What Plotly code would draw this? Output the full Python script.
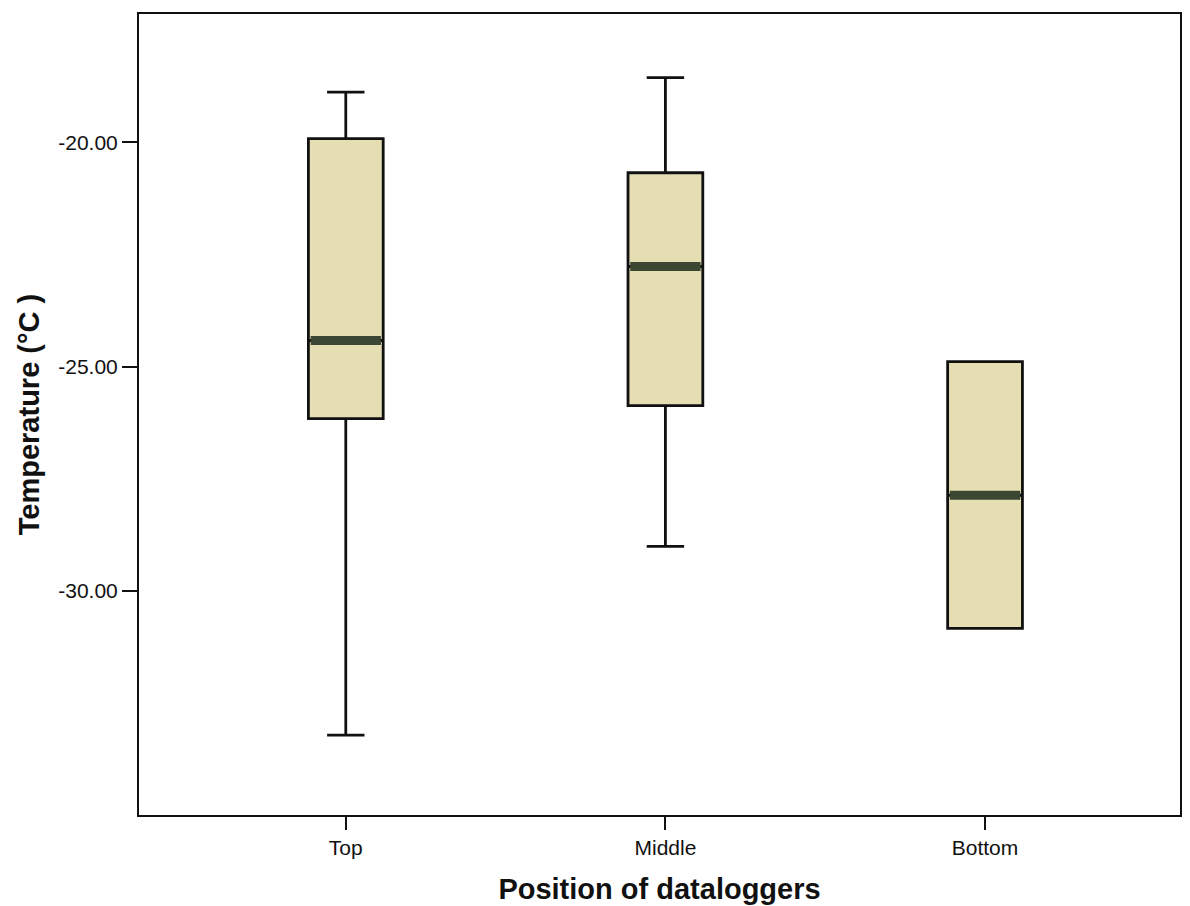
import plotly.graph_objects as go

categories = ["Top", "Middle", "Bottom"]
upper = [-18.88, -18.56, -24.89]
q3 = [-19.92, -20.68, -24.89]
median = [-24.42, -22.77, -27.87]
q1 = [-26.16, -25.87, -30.84]
lower = [-33.22, -29.01, -30.84]
y_ticks = [-20, -25, -30]
y_tick_labels = ["-20.00", "-25.00", "-30.00"]

BOX_W = 0.234
FILL = "#E4DEB2"
MED = "#3B4733"
FONT = "Liberation Sans, Arial, sans-serif"

xs = list(range(len(categories)))
fig = go.Figure()
fig.add_trace(go.Box(
    x=xs, q1=q1, median=median, q3=q3, lowerfence=lower, upperfence=upper,
    width=BOX_W, whiskerwidth=0.5, fillcolor=FILL,
    line=dict(color="#111111", width=2.8), boxpoints=False, showlegend=False,
))
for i, m in zip(xs, median):
    fig.add_trace(go.Scatter(
        x=[i - BOX_W / 2 + 0.007, i + BOX_W / 2 - 0.007], y=[m, m], mode="lines",
        line=dict(color=MED, width=9), showlegend=False, hoverinfo="skip",
    ))

fig.update_layout(
    width=1190, height=906,
    margin=dict(l=131, r=18, t=6, b=99, autoexpand=False),
    paper_bgcolor="white", plot_bgcolor="white",
    font=dict(family=FONT, color="#111111"),
)
fig.update_xaxes(
    range=[-0.647, 2.61], tickvals=xs, ticktext=categories,
    showline=True, linecolor="#111111", linewidth=2, mirror=True,
    ticks="outside", ticklen=13, tickwidth=2, tickcolor="#111111",
    showgrid=False, zeroline=False, tickfont=dict(size=21, family=FONT),
    title=dict(text="<b>Position of dataloggers</b>", font=dict(size=29, family=FONT), standoff=20),
)
fig.update_yaxes(
    range=[-35.0, -17.14], tickvals=y_ticks, ticktext=y_tick_labels,
    showline=True, linecolor="#111111", linewidth=2, mirror=True,
    ticks="outside", ticklen=15, tickwidth=2, tickcolor="#111111",
    showgrid=False, zeroline=False, tickfont=dict(size=21, family=FONT),
    title=dict(text="<b>Temperature (°C )</b>", font=dict(size=29, family=FONT), standoff=10),
)

fig.write_html("out.html")
